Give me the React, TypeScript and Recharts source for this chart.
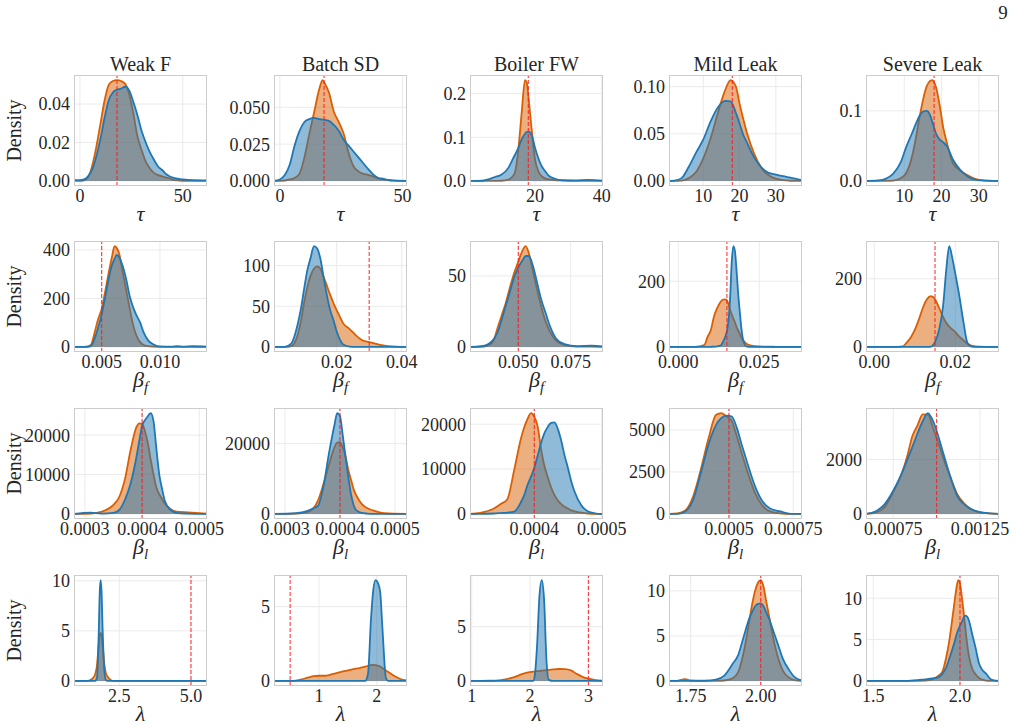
import React from 'react';
import { AreaChart, Area, XAxis, YAxis, CartesianGrid, ReferenceLine } from 'recharts';

const FONT = 'Liberation Serif, DejaVu Serif, Noto Serif, serif';
const INK = '#262626';
const ORANGE = '#d95f02';
const BLUE = '#1f77b4';
const TRUE_LINE = '#ff1a1a';
const GRID = '#ebebeb';
const FRAME = '#cccccc';

const FAULTS = ['Weak F', 'Batch SD', 'Boiler FW', 'Mild Leak', 'Severe Leak'];
const PAGE_NUMBER = '9';

// true parameter values (dashed markers), one per fault
const TRUE_TAU = [18, 18, 18, 18, 18];
const TRUE_BETA_F = [0.005, 0.03, 0.05, 0.015, 0.015];
const TRUE_BETA_L = [0.0004, 0.0004, 0.0004, 0.0005, 0.001];
const TRUE_LAMBDA = [5, 0.5, 3, 2, 2];

// ---------- tau ----------
const WF_TAU_X = [-2.9, 0, 2, 4, 6, 8, 10, 12, 14, 16, 18, 20, 22, 24, 26, 28, 30, 32, 34, 36, 38, 40, 42, 44, 46, 50, 55, 61.8];
const WF_TAU_A = [0, 0, 0.0003, 0.002, 0.008, 0.018, 0.03, 0.042, 0.05, 0.052, 0.0525, 0.052, 0.0505, 0.045, 0.035, 0.023, 0.016, 0.01, 0.0065, 0.0042, 0.003, 0.0024, 0.0018, 0.0012, 0.0004, 0.0001, 0, 0];
const WF_TAU_B = [0.0004, 0.0004, 0.0008, 0.0025, 0.006, 0.013, 0.022, 0.033, 0.042, 0.046, 0.0475, 0.048, 0.049, 0.047, 0.041, 0.034, 0.026, 0.02, 0.015, 0.011, 0.0075, 0.0057, 0.0035, 0.0022, 0.0015, 0.0008, 0.0004, 0.0003];
const WF_TAU_XT = ['0', '50'];
const WF_TAU_YT = ['0.00', '0.02', '0.04'];

const BSD_TAU_X = [-2.4, 0, 2, 4, 6, 8, 10, 12, 14, 16, 17.4, 18, 20, 22, 24, 26, 28, 30, 32, 34, 36, 38, 40, 42, 44, 46, 51.8];
const BSD_TAU_A = [0, 0, 0.0003, 0.001, 0.002, 0.005, 0.016, 0.032, 0.047, 0.062, 0.0685, 0.067, 0.06, 0.047, 0.04, 0.032, 0.019, 0.01, 0.0065, 0.0048, 0.0042, 0.003, 0.0018, 0.001, 0.0006, 0.0002, 0];
const BSD_TAU_B = [0, 0.001, 0.004, 0.011, 0.024, 0.034, 0.04, 0.042, 0.0428, 0.042, 0.0416, 0.0415, 0.0408, 0.038, 0.034, 0.028, 0.024, 0.02, 0.016, 0.012, 0.008, 0.0045, 0.0022, 0.0015, 0.0008, 0.0004, 0.0001];
const BSD_TAU_XT = ['0', '50'];
const BSD_TAU_YT = ['0.000', '0.025', '0.050'];

const BFW_TAU_X = [0.5, 4, 8, 10, 12, 13, 14, 15, 16, 17, 17.5, 18, 19, 20, 21, 22, 23, 24, 26, 28, 32, 36, 40.4];
const BFW_TAU_A = [0, 0, 0, 0.0005, 0.003, 0.008, 0.02, 0.072, 0.156, 0.231, 0.226, 0.195, 0.118, 0.05, 0.022, 0.011, 0.006, 0.004, 0.002, 0.001, 0, 0, 0];
const BFW_TAU_B = [0, 0.0005, 0.009, 0.015, 0.03, 0.045, 0.06, 0.076, 0.095, 0.108, 0.112, 0.113, 0.105, 0.076, 0.052, 0.034, 0.023, 0.013, 0.005, 0.002, 0.0015, 0.0025, 0.0007];
const BFW_TAU_XT = ['20', '40'];
const BFW_TAU_YT = ['0.0', '0.1', '0.2'];

const ML_TAU_X = [0.55, 2, 4, 6, 8, 10, 12, 14, 16, 17.5, 19, 20, 21, 22, 24, 26, 28, 30, 32, 34, 37.2];
const ML_TAU_A = [0, 0, 0.0003, 0.003, 0.0095, 0.024, 0.045, 0.072, 0.096, 0.107, 0.1, 0.082, 0.066, 0.0515, 0.029, 0.014, 0.006, 0.0025, 0.0008, 0.0002, 0];
const ML_TAU_B = [0, 0.0004, 0.003, 0.015, 0.03, 0.044, 0.063, 0.078, 0.085, 0.0845, 0.072, 0.061, 0.049, 0.041, 0.025, 0.0145, 0.0085, 0.0068, 0.005, 0.0035, 0.0008];
const ML_TAU_XT = ['10', '20', '30'];
const ML_TAU_YT = ['0.00', '0.05', '0.10'];

const SL_TAU_X = [-0.25, 3, 5, 7, 9, 10.5, 12, 13, 14, 15, 16, 17, 17.5, 18.5, 19.5, 20.5, 21.5, 23, 25, 27, 29, 31, 35.4];
const SL_TAU_A = [0, 0, 0, 0.0005, 0.004, 0.011, 0.033, 0.058, 0.088, 0.115, 0.135, 0.143, 0.144, 0.134, 0.108, 0.075, 0.053, 0.026, 0.015, 0.008, 0.003, 0.0008, 0];
const SL_TAU_B = [0, 0.0008, 0.003, 0.01, 0.026, 0.048, 0.067, 0.08, 0.092, 0.099, 0.1, 0.093, 0.085, 0.068, 0.059, 0.055, 0.049, 0.031, 0.016, 0.0065, 0.002, 0.0008, 0];
const SL_TAU_XT = ['10', '20', '30'];
const SL_TAU_YT = ['0.0', '0.1'];

// ---------- beta_f ----------
const WF_BF_X = [0.00263, 0.0035, 0.0038, 0.0041, 0.0044, 0.0047, 0.005, 0.0053, 0.0056, 0.0059, 0.0061, 0.0063, 0.0065, 0.0068, 0.0071, 0.0074, 0.0077, 0.008, 0.0083, 0.0086, 0.009, 0.0095, 0.01, 0.011, 0.0115, 0.012, 0.0128, 0.01403];
const WF_BF_A = [0, 0, 2, 10, 60, 115, 157, 228, 305, 375, 416, 408, 385, 310, 235, 160, 90, 45, 20, 8, 3, 1, 0, 0, 0, 0, 0, 0];
const WF_BF_B = [0, 0, 0, 5, 35, 80, 135, 205, 280, 340, 362, 380, 370, 335, 280, 210, 163, 129, 101, 60, 26, 9, 2, 1, 3, 1, 3, 1];
const WF_BF_XT = ['0.005', '0.010'];
const WF_BF_YT = ['0', '200', '400'];

const BSD_BF_X = [0.00071, 0.004, 0.006, 0.008, 0.009, 0.01, 0.011, 0.012, 0.013, 0.014, 0.015, 0.016, 0.017, 0.018, 0.019, 0.02, 0.021, 0.022, 0.024, 0.026, 0.028, 0.03, 0.033, 0.036, 0.04163];
const BSD_BF_A = [0, 0, 1, 15, 32, 55, 74, 88, 96, 99, 96, 86, 75, 64, 54, 45, 37, 29, 22, 14, 8, 6, 3, 1, 0];
const BSD_BF_B = [0, 0, 4, 28, 47, 72, 95, 110, 124, 121, 108, 85, 63, 45, 33, 19, 9, 3, 0.5, 0, 0, 0, 0, 0, 0];
const BSD_BF_XT = ['0.02', '0.04'];
const BSD_BF_YT = ['0', '50', '100'];

const BFW_BF_X = [0.02692, 0.032, 0.035, 0.038, 0.04, 0.042, 0.044, 0.046, 0.048, 0.05, 0.052, 0.0535, 0.055, 0.057, 0.059, 0.061, 0.063, 0.065, 0.068, 0.072, 0.078, 0.085, 0.09043];
const BFW_BF_A = [0, 0.1, 0.8, 4, 13, 22, 31, 42, 52, 60, 68, 71, 66, 53, 40, 28, 18, 11, 4.5, 1.5, 0.3, 0.3, 0];
const BFW_BF_B = [0, 0.5, 1.5, 5, 10, 19, 29, 39, 49, 56, 61, 64, 64, 57, 45, 33, 24, 15, 6, 2, 0.6, 1, 0.3];
const BFW_BF_XT = ['0.050', '0.075'];
const BFW_BF_YT = ['0', '50'];

const ML_BF_X = [-0.00287, 0.005, 0.008, 0.009, 0.01, 0.011, 0.012, 0.013, 0.014, 0.0148, 0.0155, 0.016, 0.0165, 0.017, 0.0175, 0.018, 0.0185, 0.019, 0.0195, 0.02, 0.021, 0.0225, 0.025, 0.03, 0.03818];
const ML_BF_A = [0, 0.5, 6, 30, 50, 92, 118, 137, 145, 144, 130, 112, 99, 86, 75, 60, 50, 40, 28, 20, 10, 4, 1.5, 0.5, 0];
const ML_BF_B = [0, 0, 0, 0, 0.5, 1, 2, 4, 20, 40, 80, 150, 260, 307, 290, 230, 160, 105, 55, 22, 2, 0, 0, 0, 0];
const ML_BF_XT = ['0.000', '0.025'];
const ML_BF_YT = ['0', '200'];

const SL_BF_X = [-0.00205, 0.004, 0.007, 0.008, 0.009, 0.01, 0.011, 0.012, 0.013, 0.014, 0.015, 0.016, 0.017, 0.0178, 0.0185, 0.0192, 0.02, 0.021, 0.022, 0.023, 0.024, 0.026, 0.0308];
const SL_BF_A = [0, 0.3, 2, 13, 28, 50, 80, 115, 140, 149, 140, 115, 88, 70, 60, 52, 44, 30, 20, 10, 4, 1, 0];
const SL_BF_B = [0, 0, 0, 0, 0, 0, 0, 0, 0, 1, 15, 50, 122, 230, 296, 265, 215, 150, 75, 12, 1, 0, 0];
const SL_BF_XT = ['0.00', '0.02'];
const SL_BF_YT = ['0', '200'];

// ---------- beta_l ----------
const WF_BL_X = [0.000281, 0.00031, 0.00033, 0.00035, 0.00036, 0.00037, 0.00038, 0.00039, 0.000395, 0.0004, 0.000405, 0.00041, 0.000415, 0.00042, 0.000425, 0.00043, 0.000435, 0.00044, 0.00045, 0.00046, 0.00048, 0.0005134];
const WF_BL_A = [0, 100, 600, 2300, 4300, 8830, 16300, 22000, 23000, 22800, 21000, 18000, 13800, 10000, 6700, 5000, 3740, 2600, 1200, 600, 400, 100];
const WF_BL_B = [0, 300, 100, 300, 1000, 3600, 7800, 14350, 18500, 22400, 23800, 24800, 25600, 23500, 16500, 10000, 6300, 3200, 1000, 300, 100, 0];
const WF_BL_XT = ['0.0003', '0.0004', '0.0005'];
const WF_BL_YT = ['0', '10000', '20000'];

const BSD_BL_X = [0.00028, 0.00032, 0.00034, 0.00035, 0.00036, 0.00037, 0.00038, 0.00039, 0.000395, 0.0004, 0.000405, 0.00041, 0.000415, 0.00042, 0.000425, 0.00043, 0.00044, 0.00045, 0.00046, 0.00048, 0.000522];
const BSD_BL_A = [0, 100, 500, 1300, 3800, 8500, 14000, 19000, 20300, 20400, 19000, 16500, 12650, 9800, 7000, 5200, 2800, 1600, 1000, 200, 0];
const BSD_BL_B = [0, 200, 800, 1500, 2300, 7900, 17200, 25300, 28700, 27800, 22500, 16500, 10750, 5700, 2500, 1000, 300, 100, 0, 0, 0];
const BSD_BL_XT = ['0.0003', '0.0004', '0.0005'];
const BSD_BL_YT = ['0', '20000'];

const BFW_BL_X = [0.0003045, 0.00032, 0.00034, 0.00035, 0.00036, 0.00037, 0.00038, 0.000385, 0.00039, 0.000395, 0.0004, 0.000405, 0.00041, 0.000415, 0.00042, 0.000425, 0.00043, 0.000435, 0.00044, 0.000445, 0.00045, 0.000455, 0.00046, 0.00047, 0.00048, 0.00049, 0.000502];
const BFW_BL_A = [0, 250, 1200, 2200, 3300, 9700, 16700, 19300, 21200, 22480, 21700, 19500, 14500, 10700, 8200, 5900, 4200, 3000, 2200, 1600, 1200, 800, 600, 300, 100, 0, 0];
const BFW_BL_B = [0, 0, 100, 200, 300, 500, 2600, 4200, 6500, 8300, 10300, 13000, 15800, 18000, 19400, 20300, 20400, 18900, 16300, 13000, 10200, 7200, 4900, 1900, 550, 150, 0];
const BFW_BL_XT = ['0.0004', '0.0005'];
const BFW_BL_YT = ['0', '10000', '20000'];

const ML_BL_X = [0.000267, 0.0003, 0.00033, 0.00036, 0.00039, 0.00042, 0.00045, 0.00047, 0.00049, 0.00051, 0.00053, 0.00055, 0.00057, 0.0006, 0.00063, 0.00066, 0.0007, 0.00074, 0.000784];
const ML_BL_A = [0, 30, 200, 1000, 2600, 4450, 5900, 6000, 5800, 5550, 4650, 3600, 2600, 1300, 500, 150, 30, 0, 0];
const ML_BL_B = [0, 0, 150, 800, 2400, 4100, 5300, 5700, 5850, 5800, 5150, 4100, 3100, 1700, 750, 320, 150, 10, 0];
const ML_BL_XT = ['0.0005', '0.00075'];
const ML_BL_YT = ['0', '2500', '5000'];

const SL_BL_X = [0.000593, 0.00065, 0.0007, 0.00075, 0.0008, 0.00083, 0.00086, 0.00089, 0.00092, 0.00095, 0.00098, 0.00101, 0.00104, 0.00108, 0.00112, 0.00116, 0.0012, 0.00125, 0.00136];
const SL_BL_A = [0, 50, 250, 800, 1500, 2100, 2850, 3250, 3650, 3640, 3150, 2600, 2030, 1350, 720, 380, 160, 60, 0];
const SL_BL_B = [0, 100, 350, 850, 1500, 1970, 2450, 2950, 3400, 3700, 3400, 2850, 2200, 1350, 650, 350, 180, 70, 0];
const SL_BL_XT = ['0.00075', '0.00125'];
const SL_BL_YT = ['0', '2000'];

// ---------- lambda ----------
const WF_LAM_X = [0.92, 1.4, 1.55, 1.65, 1.72, 1.78, 1.82, 1.85, 1.88, 1.92, 1.98, 2.03, 2.1, 2.2, 2.3, 3.0, 4.0, 5.0, 5.56];
const WF_LAM_A = [0, 0, 0.2, 0.6, 1.5, 3.5, 4.6, 4.8, 4.6, 3.5, 1.6, 0.8, 0.4, 0.1, 0, 0, 0, 0, 0];
const WF_LAM_B = [0, 0, 0, 0, 0.3, 4.5, 9.0, 10.07, 9.0, 5.0, 1.0, 0.1, 0, 0, 0, 0, 0, 0, 0];
const WF_LAM_XT = ['2.5', '5.0'];
const WF_LAM_YT = ['0', '5', '10'];

const BSD_LAM_X = [0.22, 0.5, 0.6, 0.7, 0.8, 0.9, 1.0, 1.1, 1.2, 1.3, 1.4, 1.5, 1.6, 1.7, 1.8, 1.85, 1.9, 1.94, 1.98, 2.02, 2.06, 2.1, 2.16, 2.2, 2.3, 2.4, 2.525];
const BSD_LAM_A = [0, 0, 0.02, 0.1, 0.22, 0.32, 0.35, 0.35, 0.42, 0.52, 0.62, 0.72, 0.8, 0.87, 0.97, 1.02, 1.06, 1.08, 1.07, 1.03, 0.97, 0.87, 0.7, 0.6, 0.35, 0.15, 0.03];
const BSD_LAM_B = [0, 0, 0, 0, 0, 0, 0, 0, 0, 0, 0, 0, 0, 0, 0, 0.5, 4.1, 6.1, 6.79, 6.6, 6.0, 3.5, 0.2, 0, 0, 0, 0];
const BSD_LAM_XT = ['1', '2'];
const BSD_LAM_YT = ['0', '5'];

const BFW_LAM_X = [0.97, 1.3, 1.5, 1.7, 1.9, 2.05, 2.08, 2.12, 2.16, 2.2, 2.24, 2.28, 2.32, 2.4, 2.5, 2.6, 2.7, 2.8, 2.9, 3.0, 3.1, 3.25];
const BFW_LAM_A = [0, 0.02, 0.08, 0.3, 0.7, 0.85, 0.87, 0.9, 0.92, 0.95, 0.98, 1.0, 1.02, 1.07, 1.1, 1.09, 0.98, 0.65, 0.38, 0.21, 0.1, 0.02];
const BFW_LAM_B = [0, 0, 0, 0, 0, 0, 0.5, 3.3, 7.8, 9.29, 7.5, 2.0, 0.1, 0, 0, 0, 0, 0, 0, 0, 0, 0];
const BFW_LAM_XT = ['1', '2', '3'];
const BFW_LAM_YT = ['0', '5'];

const ML_LAM_X = [1.6725, 1.7, 1.72, 1.73, 1.75, 1.8, 1.84, 1.87, 1.9, 1.92, 1.94, 1.96, 1.97, 1.98, 1.99, 2.0, 2.01, 2.02, 2.03, 2.04, 2.06, 2.08, 2.1, 2.12, 2.1475];
const ML_LAM_A = [0, 0, 0.15, 0.2, 0.05, 0, 0, 0.05, 0.3, 1.0, 3.3, 6.8, 8.6, 10.0, 10.9, 11.2, 10.5, 8.8, 7.2, 5.5, 2.8, 1.1, 0.4, 0.1, 0];
const ML_LAM_B = [0, 0, 0, 0, 0, 0.02, 0.15, 0.6, 1.9, 2.9, 5.0, 7.0, 7.7, 8.3, 8.55, 8.6, 8.3, 7.6, 6.9, 6.0, 4.2, 2.4, 1.3, 0.45, 0.05];
const ML_LAM_XT = ['1.75', '2.00'];
const ML_LAM_YT = ['0', '5', '10'];

const SL_LAM_X = [1.458, 1.6, 1.7, 1.8, 1.84, 1.88, 1.9, 1.92, 1.94, 1.96, 1.97, 1.98, 1.99, 2.0, 2.01, 2.02, 2.03, 2.04, 2.05, 2.07, 2.09, 2.11, 2.13, 2.15, 2.17, 2.19, 2.225];
const SL_LAM_A = [0, 0, 0, 0.05, 0.2, 0.7, 1.2, 2.8, 5.1, 8.2, 9.8, 11.3, 12.2, 11.8, 10.3, 8.5, 6.6, 4.7, 3.2, 1.5, 0.8, 0.35, 0.15, 0.05, 0, 0, 0];
const SL_LAM_B = [0, 0.02, 0.02, 0.2, 0.3, 0.5, 0.9, 1.6, 2.8, 4.1, 4.8, 5.6, 6.2, 6.7, 7.1, 7.6, 7.9, 7.8, 7.4, 5.7, 4.0, 2.1, 1.3, 0.9, 0.35, 0.1, 0];
const SL_LAM_XT = ['1.5', '2.0'];
const SL_LAM_YT = ['0', '5', '10'];

type Spec = { x: number[]; a: number[]; b: number[]; xt: string[]; yt: string[]; ref: number };

const spec = (x: number[], a: number[], b: number[], xt: string[], yt: string[], ref: number): Spec => ({ x, a, b, xt, yt, ref });

const ROWS: Spec[][] = [
  [
    spec(WF_TAU_X, WF_TAU_A, WF_TAU_B, WF_TAU_XT, WF_TAU_YT, TRUE_TAU[0]),
    spec(BSD_TAU_X, BSD_TAU_A, BSD_TAU_B, BSD_TAU_XT, BSD_TAU_YT, TRUE_TAU[1]),
    spec(BFW_TAU_X, BFW_TAU_A, BFW_TAU_B, BFW_TAU_XT, BFW_TAU_YT, TRUE_TAU[2]),
    spec(ML_TAU_X, ML_TAU_A, ML_TAU_B, ML_TAU_XT, ML_TAU_YT, TRUE_TAU[3]),
    spec(SL_TAU_X, SL_TAU_A, SL_TAU_B, SL_TAU_XT, SL_TAU_YT, TRUE_TAU[4]),
  ],
  [
    spec(WF_BF_X, WF_BF_A, WF_BF_B, WF_BF_XT, WF_BF_YT, TRUE_BETA_F[0]),
    spec(BSD_BF_X, BSD_BF_A, BSD_BF_B, BSD_BF_XT, BSD_BF_YT, TRUE_BETA_F[1]),
    spec(BFW_BF_X, BFW_BF_A, BFW_BF_B, BFW_BF_XT, BFW_BF_YT, TRUE_BETA_F[2]),
    spec(ML_BF_X, ML_BF_A, ML_BF_B, ML_BF_XT, ML_BF_YT, TRUE_BETA_F[3]),
    spec(SL_BF_X, SL_BF_A, SL_BF_B, SL_BF_XT, SL_BF_YT, TRUE_BETA_F[4]),
  ],
  [
    spec(WF_BL_X, WF_BL_A, WF_BL_B, WF_BL_XT, WF_BL_YT, TRUE_BETA_L[0]),
    spec(BSD_BL_X, BSD_BL_A, BSD_BL_B, BSD_BL_XT, BSD_BL_YT, TRUE_BETA_L[1]),
    spec(BFW_BL_X, BFW_BL_A, BFW_BL_B, BFW_BL_XT, BFW_BL_YT, TRUE_BETA_L[2]),
    spec(ML_BL_X, ML_BL_A, ML_BL_B, ML_BL_XT, ML_BL_YT, TRUE_BETA_L[3]),
    spec(SL_BL_X, SL_BL_A, SL_BL_B, SL_BL_XT, SL_BL_YT, TRUE_BETA_L[4]),
  ],
  [
    spec(WF_LAM_X, WF_LAM_A, WF_LAM_B, WF_LAM_XT, WF_LAM_YT, TRUE_LAMBDA[0]),
    spec(BSD_LAM_X, BSD_LAM_A, BSD_LAM_B, BSD_LAM_XT, BSD_LAM_YT, TRUE_LAMBDA[1]),
    spec(BFW_LAM_X, BFW_LAM_A, BFW_LAM_B, BFW_LAM_XT, BFW_LAM_YT, TRUE_LAMBDA[2]),
    spec(ML_LAM_X, ML_LAM_A, ML_LAM_B, ML_LAM_XT, ML_LAM_YT, TRUE_LAMBDA[3]),
    spec(SL_LAM_X, SL_LAM_A, SL_LAM_B, SL_LAM_XT, SL_LAM_YT, TRUE_LAMBDA[4]),
  ],
];

// grid geometry of the subplot frames
const COL_LEFT = [74, 274, 470, 669, 866];
const ROW_TOP = [75, 241, 408, 575];
const BOX_W = 133;
const BOX_H = 111;
const AXIS_W = 72;
const PAD_T = 4;
const PAD_R = 34;
const TICK_H = 30;

const textStyle = { fontFamily: FONT };

// tick renderers: labels are looked up from the panel's tick-label list
const makeXTick = (labels: string[], values: number[]) => (props: any) => {
  const v = props.payload?.value;
  const i = values.indexOf(v);
  return (
    <text x={props.x} y={props.y} dy="0.71em" textAnchor="middle" style={textStyle} fontSize={18} fill={INK}>
      {i >= 0 ? labels[i] : String(v)}
    </text>
  );
};

const makeYTick = (labels: string[], values: number[]) => (props: any) => {
  const v = props.payload?.value;
  const i = values.indexOf(v);
  return (
    <text x={props.x} y={props.y} dy="0.355em" textAnchor="end" style={textStyle} fontSize={18} fill={INK}>
      {i >= 0 ? labels[i] : String(v)}
    </text>
  );
};

function Panel({ s, left, top }: { s: Spec; left: number; top: number }) {
  const data = s.x.map((x, i) => ({ x, a: s.a[i], b: s.b[i] }));
  const peak = Math.max(...s.a, ...s.b);
  const xTicks = s.xt.map(Number);
  const yTicks = s.yt.map(Number);
  const xLo = s.x[0];
  const xHi = s.x[s.x.length - 1];
  return (
    <div style={{ position: 'absolute', left: left - AXIS_W, top: top - PAD_T }}>
      <AreaChart
        width={AXIS_W + BOX_W + PAD_R}
        height={PAD_T + BOX_H + TICK_H}
        data={data}
        margin={{ top: PAD_T, right: PAD_R, left: 0, bottom: 0 }}
      >
        <CartesianGrid stroke={GRID} strokeWidth={1} syncWithTicks />
        <XAxis
          dataKey="x"
          type="number"
          domain={[xLo, xHi]}
          ticks={xTicks}
          interval={0}
          allowDataOverflow
          axisLine={false}
          tickLine={false}
          tickSize={0}
          tickMargin={3}
          height={TICK_H}
          tick={makeXTick(s.xt, xTicks)}
        />
        <YAxis
          type="number"
          domain={[-0.05 * peak, 1.05 * peak]}
          ticks={yTicks}
          interval={0}
          allowDataOverflow
          axisLine={false}
          tickLine={false}
          tickSize={0}
          tickMargin={4}
          width={AXIS_W}
          tick={makeYTick(s.yt, yTicks)}
        />
        <Area
          type="monotone"
          dataKey="a"
          stroke={ORANGE}
          strokeWidth={1.8}
          fill={ORANGE}
          fillOpacity={0.5}
          dot={false}
          activeDot={false}
          isAnimationActive={false}
        />
        <Area
          type="monotone"
          dataKey="b"
          stroke={BLUE}
          strokeWidth={1.8}
          fill={BLUE}
          fillOpacity={0.5}
          dot={false}
          activeDot={false}
          isAnimationActive={false}
        />
        <ReferenceLine
          x={s.ref}
          stroke={TRUE_LINE}
          strokeOpacity={0.8}
          strokeWidth={1.2}
          strokeDasharray="4 2"
        />
      </AreaChart>
    </div>
  );
}

function AxisLabel({ row, x, y }: { row: number; x: number; y: number }) {
  const common = { x, y, textAnchor: 'middle' as const, fill: INK, style: textStyle };
  if (row === 0) {
    return <text {...common} fontSize={22} fontStyle="italic">τ</text>;
  }
  if (row === 3) {
    return <text {...common} fontSize={22} fontStyle="italic">λ</text>;
  }
  return (
    <text {...common} fontSize={22}>
      <tspan fontStyle="italic">β</tspan>
      <tspan fontStyle="italic" fontSize={15} dy={5}>{row === 1 ? 'f' : 'l'}</tspan>
    </text>
  );
}

export default function App() {
  return (
    <div style={{ position: 'absolute', left: 0, top: 0, width: 1022, height: 728, background: '#fff', overflow: 'hidden' }}>
      {ROWS.map((row, r) =>
        row.map((s, c) => <Panel key={`${r}-${c}`} s={s} left={COL_LEFT[c]} top={ROW_TOP[r]} />)
      )}
      <svg
        width={1022}
        height={728}
        style={{ position: 'absolute', left: 0, top: 0, pointerEvents: 'none' }}
      >
        <text x={1003} y={19} textAnchor="middle" style={textStyle} fontSize={19} fill={INK}>
          {PAGE_NUMBER}
        </text>
        {FAULTS.map((f, c) => (
          <text
            key={f}
            x={COL_LEFT[c] + BOX_W / 2}
            y={ROW_TOP[0] - 4.5}
            textAnchor="middle"
            style={textStyle}
            fontSize={20}
            fill={INK}
          >
            {f}
          </text>
        ))}
        {ROW_TOP.map((t, r) => (
          <g key={r}>
            <text
              transform={`translate(21, ${t + BOX_H / 2}) rotate(-90)`}
              textAnchor="middle"
              style={textStyle}
              fontSize={20}
              fill={INK}
            >
              Density
            </text>
            {COL_LEFT.map((l, c) => (
              <g key={c}>
                <rect x={l + 0.5} y={t + 0.5} width={BOX_W - 1} height={BOX_H - 1} fill="none" stroke={FRAME} strokeWidth={1} />
                <AxisLabel row={r} x={l + BOX_W / 2} y={t + BOX_H + 35} />
              </g>
            ))}
          </g>
        ))}
      </svg>
    </div>
  );
}
